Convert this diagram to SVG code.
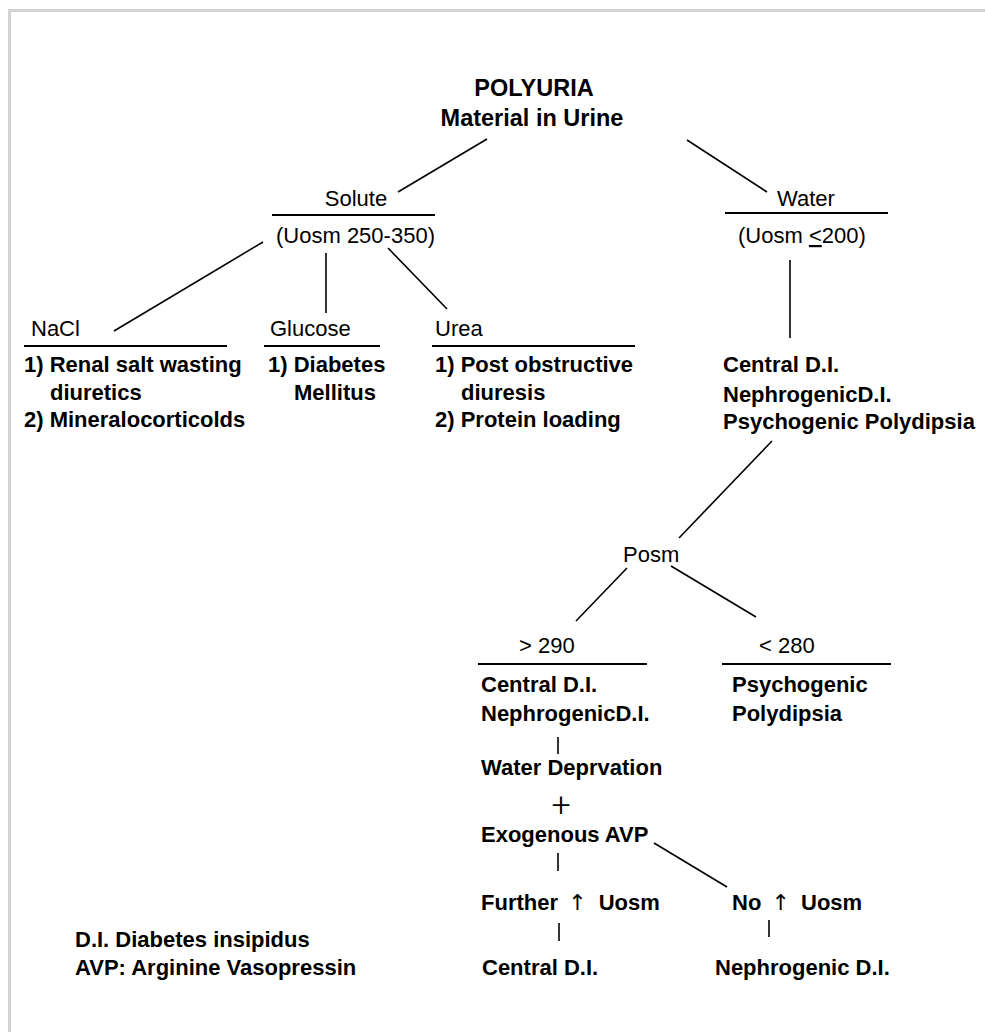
<svg xmlns="http://www.w3.org/2000/svg" width="985" height="1032" viewBox="0 0 985 1032">
<style>
text{font-family:"Liberation Sans",Arial,sans-serif;fill:#000}
.t{font-size:23.5px;font-weight:bold}
.r{font-size:22px}
.b{font-size:22px;font-weight:bold}
.ar{font-family:"DejaVu Sans",sans-serif;font-weight:normal;font-size:22px}
.c line{stroke:#000;stroke-width:1.6}
.u{stroke:#000;stroke-width:1.8}
</style>
<rect x="0" y="0" width="985" height="1032" fill="#fff"/>
<rect x="9.5" y="10.5" width="1100" height="1100" fill="none" stroke="#d2d2d2" stroke-width="3"/>
<g class="c" id="connectors">
<line x1="487" y1="139" x2="398" y2="192"/>
<line x1="687" y1="140" x2="767" y2="192"/>
<line x1="263" y1="242" x2="114" y2="331"/>
<line x1="326" y1="253" x2="326" y2="313"/>
<line x1="388" y1="248" x2="447" y2="309"/>
<line x1="790" y1="260" x2="790" y2="338"/>
<line x1="772" y1="441" x2="679" y2="538"/>
<line x1="627" y1="568" x2="576" y2="621"/>
<line x1="671" y1="566" x2="756" y2="617"/>
<line x1="558" y1="737" x2="558" y2="754"/>
<line x1="654" y1="843" x2="727" y2="887"/>
<line x1="558" y1="853" x2="558" y2="871"/>
<line x1="559" y1="923" x2="559" y2="941"/>
<line x1="769" y1="920" x2="769" y2="937"/>
</g>
<g id="root">
<text class="t" x="534" y="96" text-anchor="middle">POLYURIA</text>
<text class="t" x="532" y="126" text-anchor="middle">Material in Urine</text>
</g>
<g id="solute">
<text class="r" x="356" y="206" text-anchor="middle">Solute</text>
<line class="u" x1="272" y1="215" x2="435" y2="215"/>
<text class="r" x="276" y="243">(Uosm 250-350)</text>
</g>
<g id="water">
<text class="r" x="777" y="206">Water</text>
<line class="u" x1="725" y1="213" x2="888" y2="213"/>
<text class="r" x="738" y="243">(Uosm <tspan style="text-decoration:underline">&lt;</tspan>200)</text>
</g>
<g id="nacl">
<text class="r" x="31" y="336">NaCl</text>
<line class="u" x1="24" y1="346" x2="227" y2="346"/>
<text class="b" x="24" y="372">1) Renal salt wasting</text>
<text class="b" x="50" y="400">diuretics</text>
<text class="b" x="24" y="427">2) Mineralocorticolds</text>
</g>
<g id="glucose">
<text class="r" x="270" y="336">Glucose</text>
<line class="u" x1="264" y1="346" x2="380" y2="346"/>
<text class="b" x="268" y="372">1) Diabetes</text>
<text class="b" x="294" y="400">Mellitus</text>
</g>
<g id="urea">
<text class="r" x="435" y="336">Urea</text>
<line class="u" x1="432" y1="346" x2="635" y2="346"/>
<text class="b" x="435" y="372">1) Post obstructive</text>
<text class="b" x="461" y="400">diuresis</text>
<text class="b" x="435" y="427">2) Protein loading</text>
</g>
<g id="water-causes">
<text class="b" x="723" y="372">Central D.I.</text>
<text class="b" x="723" y="402">NephrogenicD.I.</text>
<text class="b" x="723" y="429">Psychogenic Polydipsia</text>
</g>
<g id="posm">
<text class="r" x="623" y="562">Posm</text>
</g>
<g id="high">
<text class="r" x="519" y="653">&gt; 290</text>
<line class="u" x1="478" y1="664" x2="647" y2="664"/>
<text class="b" x="481" y="692">Central D.I.</text>
<text class="b" x="481" y="721">NephrogenicD.I.</text>
</g>
<g id="low">
<text class="r" x="759" y="653">&lt; 280</text>
<line class="u" x1="722" y1="664" x2="891" y2="664"/>
<text class="b" x="732" y="692">Psychogenic</text>
<text class="b" x="732" y="721">Polydipsia</text>
</g>
<g id="test">
<text class="b" x="481" y="775">Water Deprvation</text>
<text x="561" y="816" text-anchor="middle" style="font-family:Roboto,'Liberation Sans',sans-serif;font-size:34px;font-weight:300">+</text>
<text class="b" x="481" y="842">Exogenous AVP</text>
</g>
<g id="further">
<text class="b" x="481" y="910">Further <tspan class="ar" dx="4">↑</tspan><tspan dx="6"> Uosm</tspan></text>
</g>
<g id="no">
<text class="b" x="732" y="910">No <tspan class="ar" dx="4">↑</tspan><tspan dx="5"> Uosm</tspan></text>
</g>
<g id="central">
<text class="b" x="482" y="975">Central D.I.</text>
</g>
<g id="nephrogenic">
<text class="b" x="715" y="975">Nephrogenic D.I.</text>
</g>
<g id="legend">
<text class="b" x="75" y="947">D.I. Diabetes insipidus</text>
<text class="b" x="75" y="975">AVP: Arginine Vasopressin</text>
</g>
</svg>
